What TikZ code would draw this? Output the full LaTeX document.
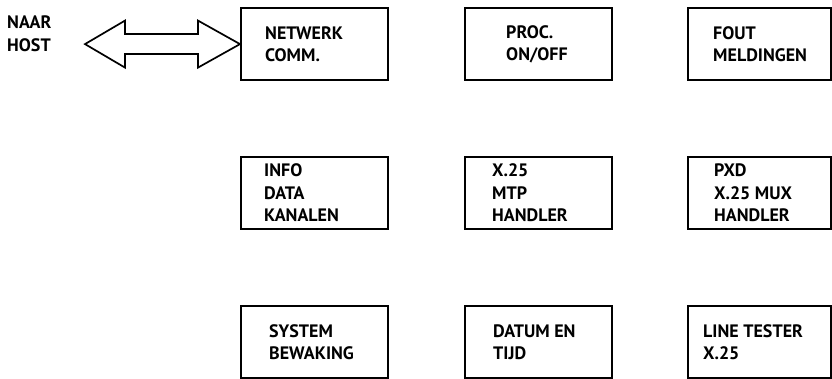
\documentclass[tikz,border=0pt]{standalone}
\usepackage{fontspec}
\setmainfont{PT Sans}
\usetikzlibrary{calc}

\tikzset{
  blok/.style={draw, line width=2.2pt, anchor=north west,
               minimum width=147pt, minimum height=72pt, inner sep=0pt},
  tekst/.style={anchor=west, align=left, inner sep=0pt,
               font=\bfseries\fontsize{18}{22.5}\selectfont},
  pijl/.style={line width=1.7pt, line join=miter},
}

\begin{document}
\begin{tikzpicture}[x=1pt, y=-1pt]
  \useasboundingbox (0,0) rectangle (832,379);
  % Bovenste rij
  \node[blok, label={[tekst, xshift=25pt]west:{NETWERK\\COMM.}}]
    (netwerk) at (240,7) {};
  \node[blok, label={[tekst, xshift=42pt]west:{PROC.\\ON/OFF}}]
    (proc) at (464,7) {};
  \node[blok, minimum width=143pt,
        label={[tekst, xshift=26pt]west:{FOUT\\MELDINGEN}}]
    (fout) at (687,7) {};
  % Middelste rij
  \node[blok, label={[tekst, xshift=24pt]west:{INFO\\DATA\\KANALEN}}]
    (info) at (240,156) {};
  \node[blok, label={[tekst, xshift=28pt]west:{X.25\\MTP\\HANDLER}}]
    (mtp) at (464,156) {};
  \node[blok, minimum width=143pt,
        label={[tekst, xshift=27pt]west:{PXD\\X.25 MUX\\HANDLER}}]
    (pxd) at (687,156) {};
  % Onderste rij
  \node[blok, label={[tekst, xshift=29pt]west:{SYSTEM\\BEWAKING}}]
    (bewaking) at (240,305) {};
  \node[blok, label={[tekst, xshift=29pt]west:{DATUM EN\\TIJD}}]
    (datum) at (464,305) {};
  \node[blok, minimum width=143pt,
        label={[tekst, xshift=16pt]west:{LINE TESTER\\X.25}}]
    (tester) at (687,305) {};
  % Host
  \node[tekst, anchor=north west] (host) at (7,16) {NAAR\\HOST};
  \coordinate (hostpunt) at ($(netwerk.west)-(155,0)$);
  % Dubbele pijl
  \draw[pijl] (hostpunt) -- ($(hostpunt)+(40,-23.5)$)
    -- ($(hostpunt)+(40,-10)$) -- ($(netwerk.west)+(-42,-10)$)
    -- ($(netwerk.west)+(-42,-23.5)$) -- (netwerk.west)
    -- ($(netwerk.west)+(-42,23.5)$) -- ($(netwerk.west)+(-42,10)$)
    -- ($(hostpunt)+(40,10)$) -- ($(hostpunt)+(40,23.5)$) -- cycle;
\end{tikzpicture}
\end{document}
